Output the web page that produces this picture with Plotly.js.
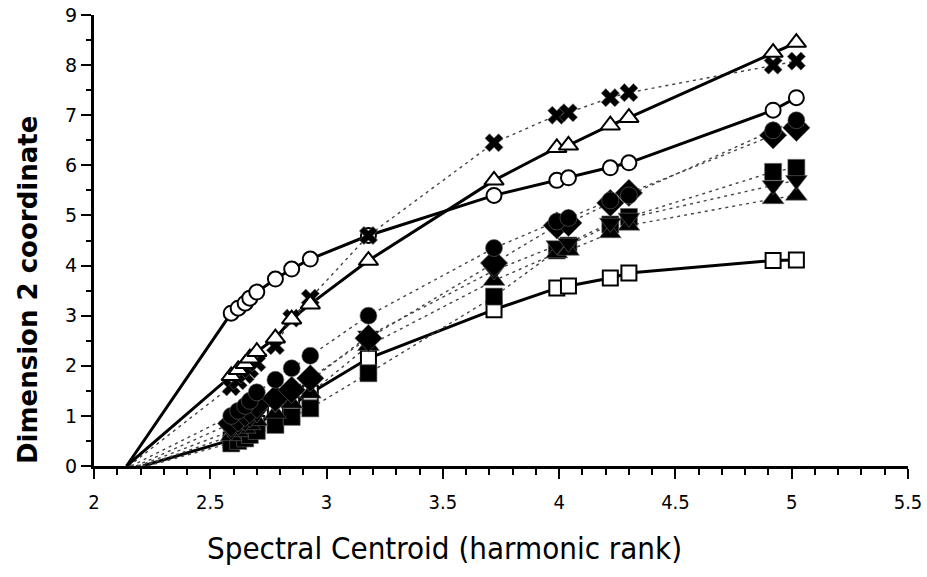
<!DOCTYPE html>
<html>
<head>
<meta charset="utf-8">
<script src="https://cdn.plot.ly/plotly-3.0.1.min.js"></script>
<style>html,body{margin:0;padding:0;background:#fff;}#chart{width:927px;height:577px;}</style>
</head>
<body>
<div id="chart"></div>
<script>
// Spectral centroid positions (harmonic rank), shared by all series
const centroids = [2.59, 2.62, 2.65, 2.67, 2.70, 2.78, 2.85, 2.93, 3.18, 3.72, 3.99, 4.04, 4.22, 4.30, 4.92, 5.02];

// Dimension 2 coordinates per series
const openCircles   = [3.05, 3.15, 3.25, 3.35, 3.47, 3.73, 3.93, 4.13, 4.60, 5.40, 5.70, 5.75, 5.95, 6.05, 7.10, 7.35];
const openTriangles = [1.80, 1.92, 2.04, 2.15, 2.28, 2.55, 2.93, 3.23, 4.10, 5.70, 6.35, 6.40, 6.80, 6.95, 8.25, 8.45];
const openSquares   = [0.52, 0.60, 0.68, 0.75, 0.85, 1.05, 1.22, 1.45, 2.15, 3.12, 3.55, 3.59, 3.75, 3.85, 4.10, 4.11];
const crosses       = [1.58, 1.70, 1.82, 1.93, 2.06, 2.40, 2.95, 3.35, 4.60, 6.45, 7.00, 7.05, 7.35, 7.45, 8.00, 8.08];
const filledCircles = [1.00, 1.10, 1.20, 1.30, 1.47, 1.72, 1.95, 2.20, 3.00, 4.35, 4.88, 4.95, 5.30, 5.40, 6.70, 6.90];
const filledDiamonds= [0.85, 0.95, 1.05, 1.12, 1.22, 1.35, 1.52, 1.75, 2.55, 4.05, 4.80, 4.85, 5.25, 5.45, 6.60, 6.75];
const filledSquares = [0.45, 0.50, 0.55, 0.62, 0.70, 0.82, 0.98, 1.15, 1.85, 3.38, 4.30, 4.40, 4.82, 4.97, 5.87, 5.95];
const downTriangles = [0.70, 0.80, 0.88, 0.95, 1.05, 1.25, 1.45, 1.70, 2.60, 3.90, 4.40, 4.45, 4.85, 4.95, 5.60, 5.70];
const upTriangles   = [0.60, 0.68, 0.75, 0.82, 0.90, 1.05, 1.25, 1.45, 2.40, 3.70, 4.25, 4.30, 4.65, 4.80, 5.33, 5.40];

// Intercepts on the x axis (where each line reaches y = 0)
const seriesNames = ['openSquares','filledSquares','upTriangles','downTriangles','filledDiamonds','filledCircles','openCircles','crosses','openTriangles'];
const interceptX  = [2.21, 2.23, 2.21, 2.19, 2.18, 2.16, 2.14, 2.15, 2.14];

const xTitle = 'Spectral Centroid (harmonic rank)';
const yTitle = 'Dimension 2 coordinate';

const seriesData = {openCircles, openTriangles, openSquares, crosses, filledCircles, filledDiamonds, filledSquares, downTriangles, upTriangles};

const styles = {
  openCircles:   {symbol:'circle',       color:'#fff', size:15, lw:2,   solid:true},
  openTriangles: {symbol:'triangle-up',  color:'#fff', size:17, lw:2,   solid:true},
  openSquares:   {symbol:'square',       color:'#fff', size:15, lw:2,   solid:true},
  crosses:       {symbol:'x',            color:'#000', size:16, lw:0.6, solid:false},
  filledCircles: {symbol:'circle',       color:'#000', size:17, lw:0.6, solid:false},
  filledDiamonds:{symbol:'diamond',      color:'#000', size:21, lw:0.6, solid:false},
  filledSquares: {symbol:'square',       color:'#000', size:17, lw:0.6, solid:false},
  downTriangles: {symbol:'triangle-down',color:'#000', size:19, lw:0.6, solid:false},
  upTriangles:   {symbol:'triangle-up',  color:'#000', size:19, lw:0.6, solid:false}
};

const traces = [];
seriesNames.forEach((name, i) => {
  const st = styles[name];
  traces.push({
    type:'scatter', mode:'lines', hoverinfo:'skip', showlegend:false,
    x:[interceptX[i]].concat(centroids),
    y:[0].concat(seriesData[name]),
    line: st.solid ? {color:'#000', width:3} : {color:'#444', width:1.4, dash:'3px,4px'}
  });
});
seriesNames.forEach((name) => {
  const st = styles[name];
  traces.push({
    type:'scatter', mode:'markers', showlegend:false, name:name,
    x:centroids, y:seriesData[name],
    marker:{symbol:st.symbol, size:st.size, color:st.color,
            line:{color: st.solid ? '#000' : '#666', width:st.lw}}
  });
});

const condensed = 'DejaVu Sans Condensed, DejaVu Sans, sans-serif';
const layout = {
  width:927, height:577,
  margin:{l:94, r:19, t:15, b:111},
  paper_bgcolor:'#fff', plot_bgcolor:'#fff',
  showlegend:false,
  xaxis:{
    range:[2,5.5], dtick:0.5, tick0:2, showgrid:false, zeroline:false,
    showline:true, linecolor:'#000', linewidth:3,
    ticks:'outside', ticklen:10, tickwidth:2, tickcolor:'#000',
    ticklabelstandoff:6,
    minor:{dtick:0.1, ticks:'outside', ticklen:6, tickwidth:2, tickcolor:'#000'},
    tickfont:{family:condensed, size:20, color:'#000'}
  },
  yaxis:{
    range:[0,9], dtick:1, tick0:0, showgrid:false, zeroline:false,
    showline:true, linecolor:'#000', linewidth:3,
    ticks:'outside', ticklen:10, tickwidth:2, tickcolor:'#000',
    minor:{dtick:0.5, ticks:'outside', ticklen:5, tickwidth:2, tickcolor:'#000'},
    tickfont:{family:'DejaVu Sans, sans-serif', size:19, color:'#000'}
  },
  annotations:[
    {text:xTitle, xref:'paper', yref:'paper', x:(444-94)/814, y:-(548-466)/451,
     xanchor:'center', yanchor:'middle', showarrow:false,
     font:{family:condensed, size:31, color:'#000'}},
    {text:yTitle, xref:'paper', yref:'paper', x:(28-94)/814, y:(466-290)/451,
     xanchor:'center', yanchor:'middle', showarrow:false, textangle:-90,
     font:{family:'DejaVu Sans, sans-serif', size:26, color:'#000', weight:'bold'}}
  ]
};

Plotly.newPlot('chart', traces, layout, {staticPlot:true, displayModeBar:false});
</script>
</body>
</html>
